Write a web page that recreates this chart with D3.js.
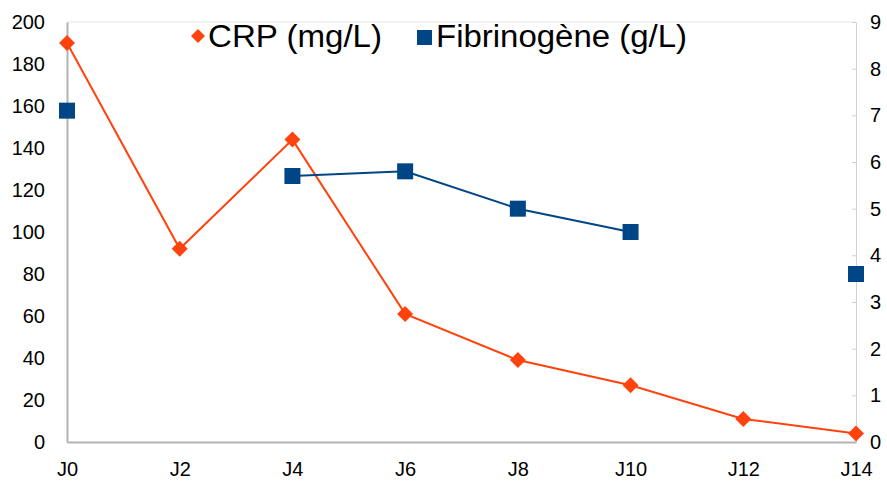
<!DOCTYPE html>
<html>
<head>
<meta charset="utf-8">
<script src="https://cdn.jsdelivr.net/npm/d3@7"></script>
<style>
  body { margin: 0; background: #fff; }
  svg { display: block; font-family: "Liberation Sans", Arial, sans-serif; }
</style>
</head>
<body>
<div id="chart"></div>
<script>
const days = ["J0", "J2", "J4", "J6", "J8", "J10", "J12", "J14"];
const crp = [190, 92, 144, 61, 39, 27, 11, 4];
const fibrinogene = [7.1, null, 5.7, 5.8, 5.0, 4.5, null, 3.6];
const leftTicks = [0, 20, 40, 60, 80, 100, 120, 140, 160, 180, 200];
const rightTicks = [0, 1, 2, 3, 4, 5, 6, 7, 8, 9];

const width = 887, height = 482;
const margin = {top: 22, right: 31, bottom: 40, left: 67};

const svg = d3.select("#chart").append("svg")
    .attr("width", width)
    .attr("height", height);

const x = d3.scalePoint()
    .domain(days)
    .range([margin.left, width - margin.right])
    .padding(0);

const yLeft = d3.scaleLinear().domain([0, 200]).range([height - margin.bottom, margin.top]);
const yRight = d3.scaleLinear().domain([0, 9]).range([height - margin.bottom, margin.top]);

// top frame line
svg.append("line")
    .attr("x1", margin.left).attr("x2", width - margin.right)
    .attr("y1", margin.top).attr("y2", margin.top)
    .attr("stroke", "#e6e6e6").attr("stroke-width", 1);

function styleText(g) {
    g.selectAll("text").attr("font-size", 20).attr("fill", "#000")
        .attr("font-family", "Liberation Sans, Arial, sans-serif");
}

// left axis
const gl = svg.append("g")
    .attr("transform", `translate(${margin.left},0)`)
    .call(d3.axisLeft(yLeft).tickValues(leftTicks).tickSize(0).tickPadding(22));
gl.select(".domain").attr("stroke", "#b3b3b3").attr("stroke-width", 2);
styleText(gl);

// right axis
const gr = svg.append("g")
    .attr("transform", `translate(${width - margin.right},0)`)
    .call(d3.axisRight(yRight).tickValues(rightTicks).tickSizeInner(-4).tickSizeOuter(0).tickPadding(14));
gr.select(".domain").attr("stroke", "#d0d0d0").attr("stroke-width", 1);
gr.selectAll(".tick line").attr("stroke", "#d0d0d0");
styleText(gr);

// bottom axis
const gb = svg.append("g")
    .attr("transform", `translate(0,${height - margin.bottom})`)
    .call(d3.axisBottom(x).tickSize(0).tickPadding(20));
gb.select(".domain").attr("stroke", "#b3b3b3").attr("stroke-width", 2);
styleText(gb);

const crpColor = "#ff420e";
const fibColor = "#004586";

const crpData = days.map((d, i) => ({day: d, v: crp[i]}));
const fibData = days.map((d, i) => ({day: d, v: fibrinogene[i]}));

svg.append("path")
    .datum(crpData)
    .attr("fill", "none")
    .attr("stroke", crpColor)
    .attr("stroke-width", 2)
    .attr("d", d3.line().x(d => x(d.day)).y(d => yLeft(d.v)));

svg.append("path")
    .datum(fibData)
    .attr("fill", "none")
    .attr("stroke", fibColor)
    .attr("stroke-width", 2)
    .attr("d", d3.line().defined(d => d.v !== null).x(d => x(d.day)).y(d => yRight(d.v)));

const diamond = d3.symbol().type(d3.symbolSquare).size(128);

svg.selectAll(".crp-pt")
    .data(crpData)
    .join("path")
    .attr("class", "crp-pt")
    .attr("d", diamond)
    .attr("fill", crpColor)
    .attr("transform", d => `translate(${x(d.day)},${yLeft(d.v)}) rotate(45)`);

svg.selectAll(".fib-pt")
    .data(fibData.filter(d => d.v !== null))
    .join("rect")
    .attr("class", "fib-pt")
    .attr("x", d => x(d.day) - 8)
    .attr("y", d => yRight(d.v) - 8)
    .attr("width", 16)
    .attr("height", 16)
    .attr("fill", fibColor);

// legend
const legend = svg.append("g");
legend.append("path")
    .attr("d", d3.symbol().type(d3.symbolSquare).size(98))
    .attr("fill", crpColor)
    .attr("transform", "translate(198,36) rotate(45)");
legend.append("text")
    .attr("x", 208).attr("y", 47)
    .attr("font-size", 31)
    .attr("textLength", 174)
    .attr("lengthAdjust", "spacingAndGlyphs")
    .text("CRP (mg/L)");
legend.append("rect")
    .attr("x", 417).attr("y", 30).attr("width", 15).attr("height", 15)
    .attr("fill", fibColor);
legend.append("text")
    .attr("x", 436).attr("y", 47)
    .attr("font-size", 31)
    .attr("textLength", 251)
    .attr("lengthAdjust", "spacingAndGlyphs")
    .text("Fibrinogène (g/L)");
</script>
</body>
</html>
